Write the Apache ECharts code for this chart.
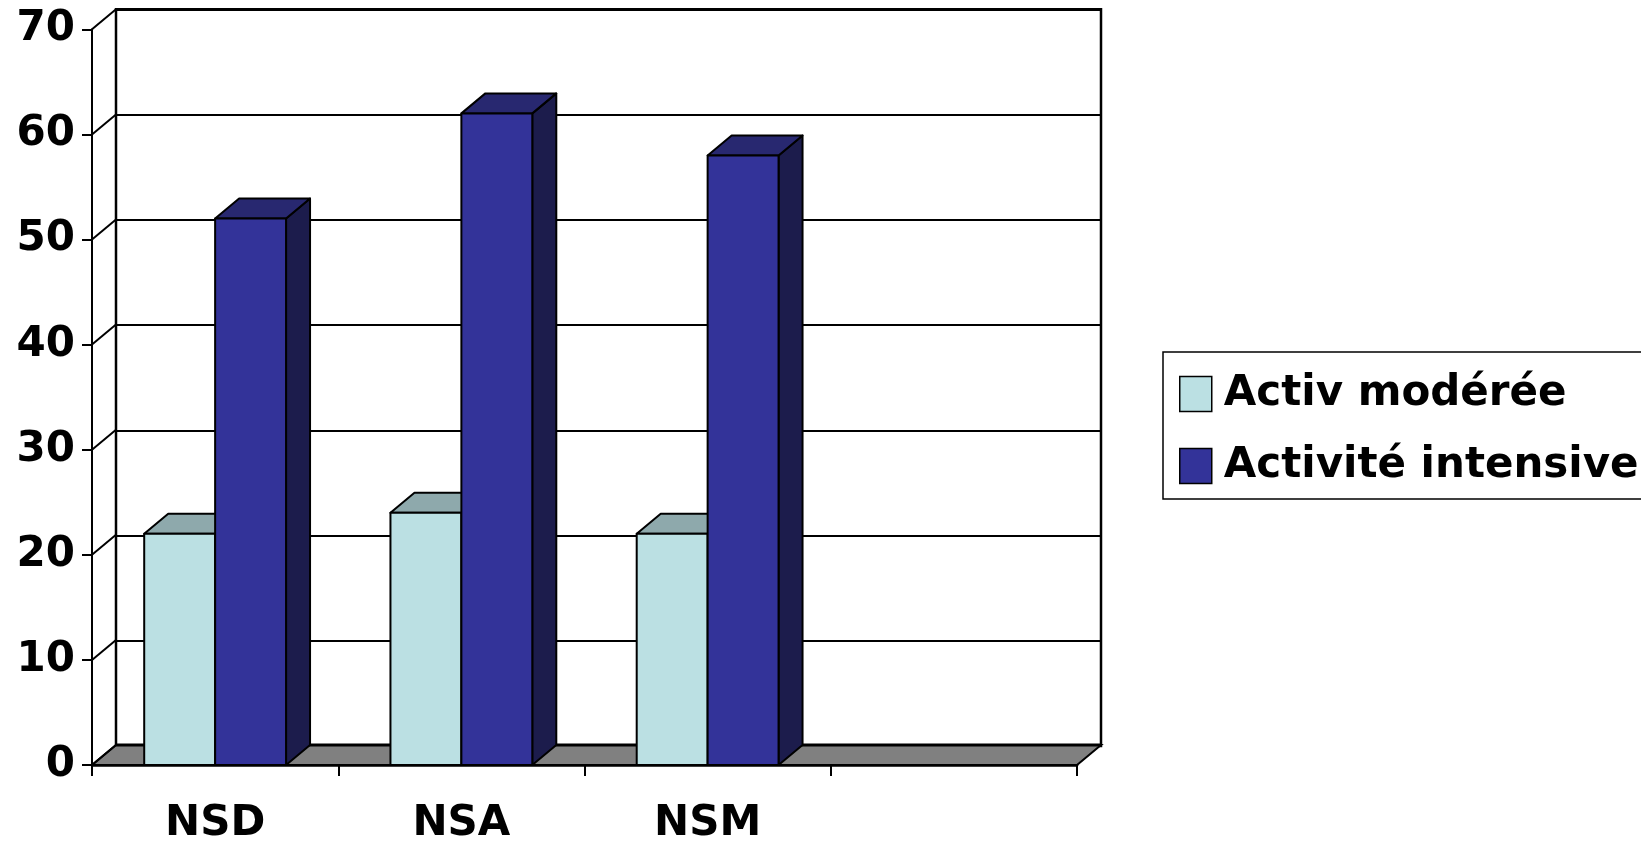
<!DOCTYPE html>
<html>
<head>
<meta charset="utf-8">
<script src="https://cdn.jsdelivr.net/npm/echarts@6/dist/echarts.min.js"></script>
<style>
  html, body { margin: 0; padding: 0; background: #fff; }
  #chart { width: 1641px; height: 845px; }
</style>
</head>
<body>
<div id="chart"></div>
<script>
// ---- data ----
var categories = ['NSD', 'NSA', 'NSM', ''];
var seriesNames = ['Activ modérée', 'Activité intensive'];
var moderee = [22, 24, 22, null];
var intensive = [52, 62, 58, null];
var yTicks = [0, 10, 20, 30, 40, 50, 60, 70];

// ---- style constants ----
var FONT = 'DejaVu Sans';
var DX = 24, DY = -20;            // 3D depth offset in pixels
var BAR_FRAC = 0.288;            // bar width as fraction of category band
var faces = [
  { front: '#BBE0E3', top: '#8EA9AC', side: '#6F8A8D' },
  { front: '#333399', top: '#282870', side: '#1C1C4C' }
];
var GRID_L = 92, GRID_T = 29.3, GRID_W = 985, GRID_H = 736.7;

var chart = echarts.init(document.getElementById('chart'), null, { renderer: 'canvas' });

function toData(arr) {
  var out = [];
  for (var i = 0; i < arr.length; i++) {
    if (arr[i] !== null) out.push([i, arr[i]]);
  }
  return out;
}

function makeBarRenderer(si) {
  return function (params, api) {
    var ci = api.value(0), v = api.value(1);
    var base = api.coord([ci, 0]);
    var top = api.coord([ci, v]);
    var band = api.size([1, 0])[0];
    var w = band * BAR_FRAC;
    var x0 = si === 0 ? base[0] - w : base[0];
    var ty = top[1], by = base[1];
    var f = faces[si];
    var ls = { stroke: '#000', lineWidth: 2, lineJoin: 'round' };
    return {
      type: 'group',
      children: [
        { type: 'polygon', shape: { points: [[x0 + w, ty], [x0 + w, by], [x0 + w + DX, by + DY], [x0 + w + DX, ty + DY]] },
          style: Object.assign({ fill: f.side }, ls) },
        { type: 'polygon', shape: { points: [[x0, ty], [x0 + w, ty], [x0 + w + DX, ty + DY], [x0 + DX, ty + DY]] },
          style: Object.assign({ fill: f.top }, ls) },
        { type: 'rect', shape: { x: x0, y: ty, width: w, height: by - ty },
          style: Object.assign({ fill: f.front }, ls) }
      ]
    };
  };
}

function renderFrame(params, api) {
  var band = api.size([1, 0])[0];
  var left = api.coord([0, 0])[0] - band / 2;
  var right = api.coord([categories.length - 1, 0])[0] + band / 2;
  var y0 = api.coord([0, 0])[1];
  var children = [];
  children.push({
    type: 'polygon',
    shape: { points: [[left, y0], [right, y0], [right + DX, y0 + DY], [left + DX, y0 + DY]] },
    style: { fill: '#808080', stroke: '#000', lineWidth: 2 }
  });
  children.push({
    type: 'line',
    shape: { x1: left + DX, y1: y0 + DY, x2: right + DX, y2: y0 + DY },
    style: { stroke: '#000', lineWidth: 3 }
  });
  for (var i = 0; i < yTicks.length; i++) {
    var y = api.coord([0, yTicks[i]])[1];
    children.push({
      type: 'line',
      shape: { x1: left, y1: y, x2: left + DX, y2: y + DY },
      style: { stroke: '#000', lineWidth: 2 }
    });
  }
  return { type: 'group', children: children };
}

var labelStyle = { fontFamily: FONT, fontWeight: 'bold', fontSize: 42, color: '#000' };

var option = {
  animation: false,
  backgroundColor: '#fff',
  grid: [
    { left: GRID_L, top: GRID_T, width: GRID_W, height: GRID_H, containLabel: false },
    { left: GRID_L + DX, top: GRID_T + DY, width: GRID_W, height: GRID_H, containLabel: false,
      show: true, borderColor: '#000', borderWidth: 2.5, backgroundColor: 'transparent' }
  ],
  xAxis: [
    { type: 'category', gridIndex: 0, data: categories,
      axisLine: { show: true, lineStyle: { color: '#000', width: 2.5 } },
      axisTick: { show: true, length: 11, lineStyle: { color: '#000', width: 2 } },
      axisLabel: Object.assign({ margin: 38, interval: 0 }, labelStyle),
      splitLine: { show: false } },
    { type: 'category', gridIndex: 1, data: categories, show: false }
  ],
  yAxis: [
    { type: 'value', gridIndex: 0, min: 0, max: 70, interval: 10,
      axisLine: { show: true, lineStyle: { color: '#000', width: 2 } },
      axisTick: { show: true, length: 10, lineStyle: { color: '#000', width: 2 } },
      axisLabel: Object.assign({ margin: 17 }, labelStyle),
      splitLine: { show: false } },
    { type: 'value', gridIndex: 1, min: 0, max: 70, interval: 10,
      axisLine: { show: false }, axisTick: { show: false }, axisLabel: { show: false },
      splitLine: { show: true, lineStyle: { color: '#000', width: 2 } } }
  ],
  legend: {
    orient: 'vertical',
    left: 1163, top: 352,
    padding: [21, 30, 12, 16],
    borderColor: '#000', borderWidth: 1.5,
    itemWidth: 32, itemHeight: 35, itemGap: 30,
    textStyle: Object.assign({ padding: [0, 0, 0, 7] }, labelStyle),
    data: [
      { name: seriesNames[0], icon: 'rect', itemStyle: { color: faces[0].front, borderColor: '#000', borderWidth: 1.5 } },
      { name: seriesNames[1], icon: 'rect', itemStyle: { color: faces[1].front, borderColor: '#000', borderWidth: 1.5 } }
    ]
  },
  series: [
    { type: 'custom', name: 'frame', xAxisIndex: 0, yAxisIndex: 0, z: 1, silent: true,
      renderItem: renderFrame, data: [[0, 0]] },
    { type: 'custom', name: seriesNames[0], xAxisIndex: 0, yAxisIndex: 0, z: 3,
      itemStyle: { color: faces[0].front },
      renderItem: makeBarRenderer(0), data: toData(moderee) },
    { type: 'custom', name: seriesNames[1], xAxisIndex: 0, yAxisIndex: 0, z: 4,
      itemStyle: { color: faces[1].front },
      renderItem: makeBarRenderer(1), data: toData(intensive) }
  ]
};
chart.setOption(option);
</script>
</body>
</html>
